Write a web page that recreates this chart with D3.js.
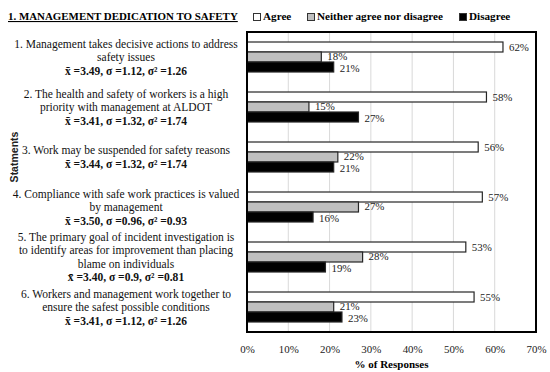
<!DOCTYPE html>
<html>
<head>
<meta charset="utf-8">
<script src="https://cdn.jsdelivr.net/npm/d3@7"></script>
<style>
  body { margin: 0; background: #fff; }
</style>
</head>
<body>
<svg id="chart" width="550" height="372"></svg>
<script>
// statements (lines of text shown at the left) and stats lines
const statements = [
  ["1. Management takes decisive actions to address", "safety issues"],
  ["2. The health and safety of workers is a high", "priority with management at ALDOT"],
  ["3. Work may be suspended for safety reasons"],
  ["4. Compliance with safe work practices is valued", "by management"],
  ["5. The primary goal of incident investigation is", "to identify areas for improvement than placing", "blame on individuals"],
  ["6. Workers and management work together to", "ensure the safest possible conditions"]
];
const stats = [
  "x\u0304 =3.49, \u03c3 =1.12, \u03c3\u00b2 =1.26",
  "x\u0304 =3.41, \u03c3 =1.32, \u03c3\u00b2 =1.74",
  "x\u0304 =3.44, \u03c3 =1.32, \u03c3\u00b2 =1.74",
  "x\u0304 =3.50, \u03c3 =0.96, \u03c3\u00b2 =0.93",
  "x\u0304 =3.40, \u03c3 =0.9, \u03c3\u00b2 =0.81",
  "x\u0304 =3.41, \u03c3 =1.12, \u03c3\u00b2 =1.26"
];
const seriesNames = ["Agree", "Neither agree nor disagree", "Disagree"];
const agree    = [62, 58, 56, 57, 53, 55];
const neither  = [18, 15, 22, 27, 28, 21];
const disagree = [21, 27, 21, 16, 19, 23];
const xTicks = [0, 10, 20, 30, 40, 50, 60, 70];

const colors = ["#ffffff", "#bfbfbf", "#000000"];
const series = [agree, neither, disagree];

const SERIF = "Liberation Serif";
const MARGIN = {LEFT: 247, RIGHT: 14, TOP: 32, BOTTOM: 40};
const W = 550, H = 372;
const svg = d3.select("#chart").attr("font-family", SERIF);

// scale a text's font size so its width matches a target width
function fitSize(sel, target) {
  const w = sel.node().getComputedTextLength();
  const fs = parseFloat(sel.attr("font-size"));
  return w > 0 ? fs * target / w : fs;
}

const x = d3.scaleLinear().domain([0, 70]).range([MARGIN.LEFT, W - MARGIN.RIGHT]);
const y = d3.scaleBand().domain(d3.range(statements.length))
  .range([MARGIN.TOP, H - MARGIN.BOTTOM]).paddingInner(0.4).paddingOuter(0.2);
const ySub = d3.scaleBand().domain(d3.range(3)).range([0, y.bandwidth()]);

// gridlines
svg.append("g")
  .selectAll("line")
  .data(xTicks.slice(1, -1))
  .join("line")
  .attr("x1", d => x(d)).attr("x2", d => x(d))
  .attr("y1", MARGIN.TOP).attr("y2", H - MARGIN.BOTTOM)
  .attr("stroke", "#d9d9d9").attr("stroke-width", 1);

// bars
const groups = svg.append("g").selectAll("g")
  .data(statements)
  .join("g")
  .attr("transform", (d, i) => `translate(0,${y(i)})`);

// value labels: measure once so "62%" is about 20px wide
const probe = svg.append("text").attr("font-size", 12).text("62%");
const valSize = fitSize(probe, 20);
probe.remove();

const labelShift = [0, -0.5, 1];
series.forEach((vals, s) => {
  groups.append("rect")
    .attr("x", x(0))
    .attr("y", ySub(s))
    .attr("width", (d, i) => x(vals[i]) - x(0))
    .attr("height", ySub.bandwidth())
    .attr("fill", colors[s])
    .attr("stroke", "#262626")
    .attr("stroke-width", 1.2);
  groups.append("text")
    .attr("x", (d, i) => x(vals[i]) + 6)
    .attr("y", ySub(s) + ySub.bandwidth() / 2 + labelShift[s])
    .attr("dy", "0.35em")
    .attr("font-size", valSize)
    .attr("fill", "#222")
    .text((d, i) => vals[i] + "%");
});

// frame
svg.append("rect")
  .attr("x", x(0)).attr("y", MARGIN.TOP)
  .attr("width", x(70) - x(0)).attr("height", H - MARGIN.BOTTOM - MARGIN.TOP)
  .attr("fill", "none").attr("stroke", "#000").attr("stroke-width", 2);

// x axis labels
const xAxis = svg.append("g")
  .attr("transform", `translate(0,${H - MARGIN.BOTTOM + 10})`)
  .call(d3.axisBottom(x).tickValues(xTicks).tickFormat(d => d + "%").tickSize(0));
xAxis.select(".domain").remove();
xAxis.attr("font-family", SERIF).attr("font-size", valSize);
xAxis.selectAll("text").attr("fill", "#222");

const xTitle = svg.append("text")
  .attr("x", (x(0) + x(70)) / 2).attr("y", 368)
  .attr("text-anchor", "middle").attr("font-size", 12).attr("font-weight", "bold")
  .text("% of Responses");
xTitle.attr("font-size", fitSize(xTitle, 74));

// left statement labels, size fitted on the first line (224px wide)
const probe2 = svg.append("text").attr("font-size", 12).text(statements[0][0]);
const stSize = fitSize(probe2, 224);
probe2.remove();
const LINE_H = 13.5;
statements.forEach((lines, i) => {
  const all = lines.concat([stats[i]]);
  const cy = y(i) + y.bandwidth() / 2;
  const top = cy - (all.length - 1) * LINE_H / 2;
  const t = svg.append("text")
    .attr("text-anchor", "middle")
    .attr("font-size", stSize)
    .attr("fill", "#111");
  all.forEach((ln, k) => {
    t.append("tspan")
      .attr("x", 126)
      .attr("y", top + k * LINE_H)
      .attr("dy", "0.35em")
      .attr("font-weight", k === all.length - 1 ? "bold" : "normal")
      .text(ln);
  });
});

// y axis title
svg.append("text")
  .attr("transform", "translate(18,157) rotate(-90)")
  .attr("text-anchor", "middle")
  .attr("font-family", "Liberation Sans")
  .attr("font-size", "10.5px").attr("font-weight", "bold")
  .attr("fill", "#222")
  .text("Statments");

// title
const title = svg.append("text")
  .attr("x", 8).attr("y", 20)
  .attr("font-size", 12).attr("font-weight", "bold")
  .attr("text-decoration", "underline")
  .text("1. MANAGEMENT DEDICATION TO SAFETY");
title.attr("font-size", fitSize(title, 230));

// legend
const legendX = [253, 307, 459];
const legend = svg.append("g").selectAll("g")
  .data(seriesNames)
  .join("g")
  .attr("transform", (d, i) => `translate(${legendX[i]},0)`);
legend.append("rect")
  .attr("x", 0.5).attr("y", 13.5).attr("width", 7).attr("height", 7)
  .attr("fill", (d, i) => colors[i] === "#000000" ? "#000" : colors[i])
  .attr("stroke", "#333").attr("stroke-width", 1);
const legText = legend.append("text")
  .attr("x", 10).attr("y", 20)
  .attr("font-size", 12).attr("font-weight", "bold")
  .text(d => d);
legText.attr("font-size", fitSize(legText.filter((d, i) => i === 1), 126));
</script>
</body>
</html>
